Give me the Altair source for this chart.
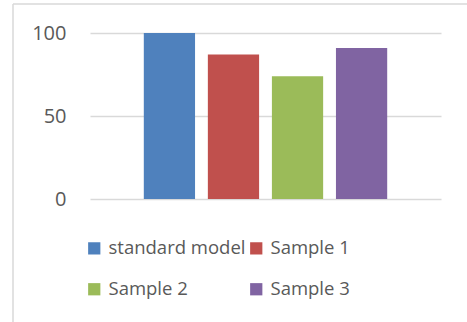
import altair as alt
import pandas as pd

# Series names and their scores
series = ["standard model", "Sample 1", "Sample 2", "Sample 3"]
values = [100, 87, 74, 91]
colors = ["#4f81bd", "#c0504d", "#9bbb59", "#8064a2"]
y_ticks = [0, 50, 100]

df = pd.DataFrame({"series": series, "value": values})

FONT = "Open Sans"
TEXT = "#595959"
GRID = "#d9d9d9"

bars = alt.Chart(df).mark_bar().encode(
    x=alt.X("series:N", sort=series, axis=None,
            scale=alt.Scale(paddingInner=0.2, paddingOuter=0.84)),
    y=alt.Y("value:Q", scale=alt.Scale(domain=[0, 100], nice=False),
            axis=alt.Axis(values=y_ticks, title=None, domain=False, ticks=False,
                          labelPadding=24, labelFontSize=20, labelColor=TEXT,
                          labelFont=FONT, gridColor=GRID, gridWidth=1.5)),
    color=alt.Color("series:N", sort=series,
                    scale=alt.Scale(domain=series, range=colors),
                    legend=alt.Legend(title=None, orient="none", legendX=-5, legendY=206,
                                      direction="horizontal",
                                      columns=2, symbolType="square", symbolSize=150,
                                      symbolStrokeWidth=0, labelFontSize=18.5,
                                      labelFont=FONT, labelColor=TEXT, labelOffset=5,
                                      columnPadding=1, rowPadding=22)),
)

# Frame around the chart area
frame_data = alt.Data(values=[{}])
left_edge = alt.Chart(frame_data).mark_rule(color=GRID, strokeWidth=1.5).encode(
    x=alt.value(-77), y=alt.value(-29), y2=alt.value(300))
top_edge = alt.Chart(frame_data).mark_rule(color=GRID, strokeWidth=1.5).encode(
    x=alt.value(-77), x2=alt.value(400), y=alt.value(-29))

chart = alt.layer(bars, left_edge, top_edge).properties(
    width=351, height=166,
    autosize=alt.AutoSizeParams(type="none"),
    padding={"left": 90, "top": 33, "right": 26, "bottom": 123},
    background="white",
).configure_view(stroke=None)

chart.save("out.html", embed_options={"renderer": "svg", "actions": False})
